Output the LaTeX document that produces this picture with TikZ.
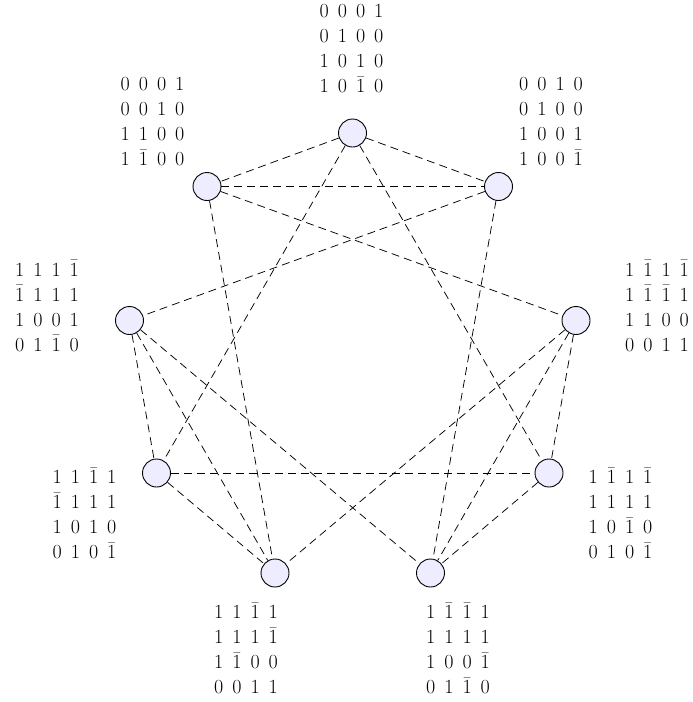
\RequirePackage{fix-cm}
\documentclass[tikz,border=0pt]{standalone}
\begin{document}
\begin{tikzpicture}[x=1pt,y=-1pt,
  vtx/.style={circle,draw,line width=0.9pt,fill=blue!7,minimum size=28pt,inner sep=0pt},
  edg/.style={line width=0.75pt,dash pattern=on 8pt off 5pt},
  mat/.style={inner sep=0pt,font=\fontsize{20}{25}\selectfont}]
\useasboundingbox (0,0) rectangle (693,702);
\newcommand{\mb}{$\bar{1}$}
\newcommand{\mx}[4]{\begin{tabular}{@{}c@{\hspace{9pt}}c@{\hspace{9pt}}c@{\hspace{9pt}}c@{}}#1\\#2\\#3\\#4\end{tabular}}
% vertices
\node[vtx] (v0) at (352.5,133) {};
\node[vtx] (v1) at (207,186.5) {};
\node[vtx] (v2) at (129.5,320.5) {};
\node[vtx] (v3) at (156.5,473) {};
\node[vtx] (v4) at (275,573) {};
\node[vtx] (v5) at (430.5,573) {};
\node[vtx] (v6) at (549,473) {};
\node[vtx] (v7) at (576,320.5) {};
\node[vtx] (v8) at (498.5,186.5) {};
% edges
\foreach \a/\b in {v0/v1,v0/v8,v0/v3,v0/v6,v1/v8,v1/v7,v1/v4,v8/v2,v8/v5,v2/v3,v2/v4,v2/v5,v7/v6,v7/v5,v7/v4,v3/v6,v3/v4,v6/v5}
  \draw[edg] (\a) -- (\b);
% labels
\node[mat] (m0) at (351.5,50) {\mx{0 & 0 & 0 & 1}{0 & 1 & 0 & 0}{1 & 0 & 1 & 0}{1 & 0 & \mb & 0}};
\node[mat] (m1) at (152.5,123) {\mx{0 & 0 & 0 & 1}{0 & 0 & 1 & 0}{1 & 1 & 0 & 0}{1 & \mb & 0 & 0}};
\node[mat] (m8) at (551,123) {\mx{0 & 0 & 1 & 0}{0 & 1 & 0 & 0}{1 & 0 & 0 & 1}{1 & 0 & 0 & \mb}};
\node[mat] (m2) at (47,308.5) {\mx{1 & 1 & 1 & \mb}{\mb & 1 & 1 & 1}{1 & 0 & 0 & 1}{0 & 1 & \mb & 0}};
\node[mat] (m7) at (657,308.5) {\mx{1 & \mb & 1 & \mb}{1 & \mb & \mb & 1}{1 & 1 & 0 & 0}{0 & 0 & 1 & 1}};
\node[mat] (m3) at (84.5,516) {\mx{1 & 1 & \mb & 1}{\mb & 1 & 1 & 1}{1 & 0 & 1 & 0}{0 & 1 & 0 & \mb}};
\node[mat] (m6) at (620.5,516) {\mx{1 & \mb & 1 & \mb}{1 & 1 & 1 & 1}{1 & 0 & \mb & 0}{0 & 1 & 0 & \mb}};
\node[mat] (m4) at (246,651) {\mx{1 & 1 & \mb & 1}{1 & 1 & 1 & \mb}{1 & \mb & 0 & 0}{0 & 0 & 1 & 1}};
\node[mat] (m5) at (458,651) {\mx{1 & \mb & \mb & 1}{1 & 1 & 1 & 1}{1 & 0 & 0 & \mb}{0 & 1 & \mb & 0}};
\end{tikzpicture}
\end{document}
